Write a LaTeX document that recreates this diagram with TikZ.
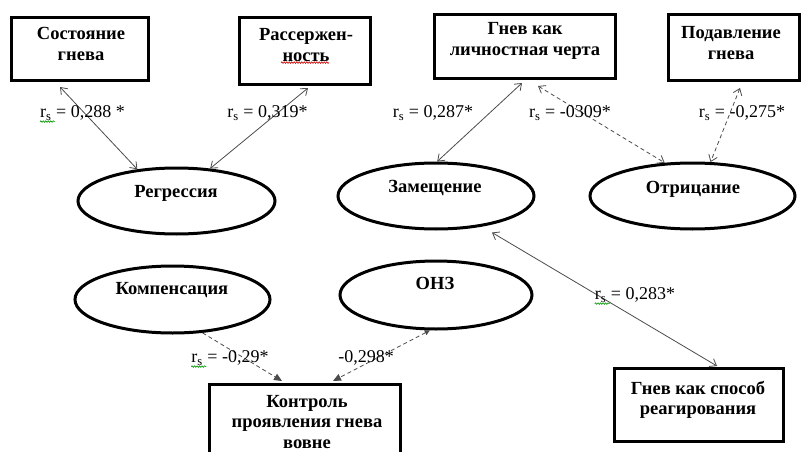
\documentclass[tikz,border=0pt]{standalone}
\usepackage{fontspec}
\setmainfont{Liberation Serif}
\usetikzlibrary{shapes.geometric,arrows.meta,decorations.pathmorphing}
\begin{document}
\begin{tikzpicture}[x=1pt,y=-1pt,
  box/.style={draw, line width=3pt, rectangle, inner sep=0pt},
  ell/.style={draw, ellipse, line width=3pt, inner sep=0pt},
  ntext/.style={font=\bfseries\fontsize{18.5}{20.5}\selectfont, align=center, inner sep=0pt},
  lbl/.style={font=\fontsize{18}{20}\selectfont, inner sep=0pt},
  conn/.style={draw=black!70, line width=0.8pt},
  barbs/.style={conn, {Straight Barb[length=6pt,width=9pt]}-{Straight Barb[length=6pt,width=9pt]}},
  dashline/.style={dash pattern=on 4pt off 3pt},
  filledtip/.style={conn, -{Triangle[length=8pt,width=7pt]}},
  filledtwo/.style={conn, {Triangle[length=5pt,width=5pt]}-{Triangle[length=8pt,width=7pt]}},
  squig/.style={draw=#1, line width=0.6pt, decorate, decoration={snake, amplitude=0.8pt, segment length=2.5pt}}
]
\clip (0,0) rectangle (803,452);
\fill[white] (0,0) rectangle (803,452);

% boxes
\node[box, minimum width=137pt, minimum height=63pt] (sg) at (80,49) {};
\node[box, minimum width=131pt, minimum height=67pt] (ras) at (305,51) {};
\node[box, minimum width=181pt, minimum height=64pt] (glc) at (525,46.5) {};
\node[box, minimum width=131pt, minimum height=66pt] (pg) at (734,47.5) {};
\node[box, minimum width=169pt, minimum height=73pt] (gsr) at (699,405) {};
\node[box, minimum width=191pt, minimum height=89pt] (kont) at (305,429) {};

\node[ntext] (sgt) at (81,44) {Состояние\\гнева};
\node[ntext] (rast) at (306,45) {Рассержен-\\ность};
\node[ntext] (glct) at (525,41) {Гнев как\\личностная черта};
\node[ntext] (pgt) at (731,43) {Подавление\\гнева};
\node[ntext] (gsrt) at (698,400) {Гнев как способ\\реагирования};
\node[ntext] (kontt) at (307,422) {Контроль\\проявления гнева\\вовне};

% ellipses
\node[ell, minimum width=197pt, minimum height=66pt] (reg) at (176.5,201) {};
\node[ell, minimum width=196pt, minimum height=66pt] (zam) at (436,196) {};
\node[ell, minimum width=205pt, minimum height=66pt] (otr) at (692.5,196) {};
\node[ell, minimum width=195pt, minimum height=67pt] (komp) at (172.5,299.5) {};
\node[ell, minimum width=192pt, minimum height=68pt] (onz) at (436,295) {};

\node[ntext] (regt) at (176,193) {Регрессия};
\node[ntext] (zamt) at (435,188) {Замещение};
\node[ntext] (otrt) at (693,189) {Отрицание};
\node[ntext] (kompt) at (172,290) {Компенсация};
\node[ntext] (onzt) at (435,283) {ОНЗ};

% connectors
\draw[barbs] ([xshift=-20pt,yshift=-5pt]sg.south) -- (reg.141);
\draw[barbs] ([xshift=3pt,yshift=-2pt]ras.south) -- (reg.44);
\draw[barbs] ([xshift=-3pt,yshift=-3pt]glc.south) -- (zam.88);
\draw[barbs, dashline] ([xshift=13pt,yshift=-6pt]glc.south) -- (otr.130);
\draw[barbs, dashline] ([xshift=6pt,yshift=-6pt]pg.south) -- (otr.62);
\draw[barbs] ([xshift=56pt,yshift=-2pt]zam.south) -- ([xshift=18pt,yshift=1pt]gsr.north);
\draw[filledtip, dashline] (komp.-48) -- ([xshift=-23pt,yshift=2pt]kont.north);
\draw[filledtwo, dashline] (onz.-100) -- ([xshift=28pt,yshift=2pt]kont.north);

% labels
\node[lbl] (l1) at (82.5,113) {r\textsubscript{s} = 0,288 *};
\node[lbl] (l2) at (267.5,113) {r\textsubscript{s} = 0,319*};
\node[lbl] (l3) at (433,113) {r\textsubscript{s} = 0,287*};
\node[lbl] (l4) at (570,113) {r\textsubscript{s} = -0309*};
\node[lbl] (l5) at (742,113) {r\textsubscript{s} = -0,275*};
\node[lbl] (l6) at (635,295) {r\textsubscript{s} = 0,283*};
\node[lbl] (l7) at (230,358) {r\textsubscript{s} = -0,29*};
\node[lbl] (l8) at (366,358) {-0,298*};

% spell-check squiggles
\draw[squig=green!60!black] ([yshift=-1pt]l1.south west) -- ++(15,0);
\draw[squig=green!60!black] ([yshift=-1pt]l6.south west) -- ++(15,0);
\draw[squig=green!60!black] ([yshift=-1pt]l7.south west) -- ++(15,0);
\draw[squig=red!80!black] ([xshift=-25pt,yshift=-1pt]rast.south) -- ++(48,0);
\end{tikzpicture}
\end{document}
